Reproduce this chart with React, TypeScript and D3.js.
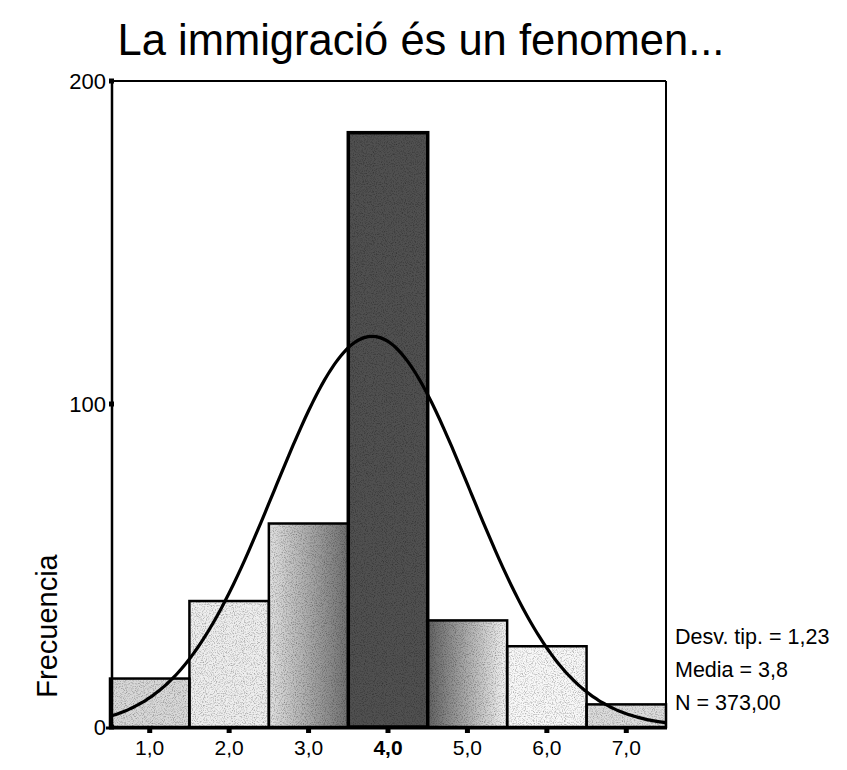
import React from "react";
import * as d3 from "d3";

const title = "La immigració és un fenomen...";
const binCenters = [1, 2, 3, 4, 5, 6, 7];
const binCounts = [15, 39, 63, 184, 33, 25, 7];
const xTickLabels = ["1,0", "2,0", "3,0", "4,0", "5,0", "6,0", "7,0"];
const yTicks = [0, 100, 200];
const statsLines = ["Desv. tip. = 1,23", "Media = 3,8", "N = 373,00"];
const meanVal = 3.8;
const sdVal = 1.23;
const nVal = 373;

// fill shades per bar: [left, right]
const barShades: [string, string][] = [
  ["#d8d8d8", "#d8d8d8"],
  ["#eeeeee", "#eeeeee"],
  ["#e2e2e2", "#707070"],
  ["#505050", "#505050"],
  ["#626262", "#f4f4f4"],
  ["#f8f8f8", "#f8f8f8"],
  ["#dcdcdc", "#dcdcdc"],
];

export default function App() {
  const W = 847, H = 770;
  const x = d3.scaleLinear().domain([0.5, 7.5]).range([110, 666]);
  const y = d3.scaleLinear().domain([0, 200]).range([727, 81]);

  const curvePts: [number, number][] = d3.range(0.5, 7.5001, 0.05).map((v) => {
    const z = (v - meanVal) / sdVal;
    const dens = (nVal / (sdVal * Math.sqrt(2 * Math.PI))) * Math.exp(-0.5 * z * z);
    return [x(v), y(dens)];
  });
  const line = d3.line().curve(d3.curveBasis)(curvePts) || "";

  const font = "Arial, 'Liberation Sans', sans-serif";

  return (
    <svg width={W} height={H} style={{ position: "absolute", left: 0, top: 0, background: "#fff" }}>
      <defs>
        {barShades.map((s, i) => (
          <linearGradient key={i} id={`g${i}`} x1="0" x2="1" y1="0" y2="0">
            <stop offset="0" stopColor={s[0]} />
            <stop offset="1" stopColor={s[1]} />
          </linearGradient>
        ))}
        <filter id="grain" x="0" y="0" width="100%" height="100%">
          <feTurbulence type="fractalNoise" baseFrequency="0.9" numOctaves="2" seed="3" result="noise" />
          <feColorMatrix in="noise" type="matrix"
            values="0 0 0 0 0  0 0 0 0 0  0 0 0 0 0  0 0 0 -2.2 1.2" result="dots" />
          <feComposite in="dots" in2="SourceGraphic" operator="in" />
        </filter>
      </defs>
      <rect width={W} height={H} fill="#fff" />
      <text x={421} y={55} textAnchor="middle" fontFamily={font} fontSize={43.5} fill="#000">{title}</text>

      {/* bars */}
      {binCenters.map((c, i) => {
        const x0 = x(c - 0.5), x1 = x(c + 0.5);
        const yt = y(binCounts[i]);
        const h = y(0) - yt;
        return (
          <g key={i}>
            <rect x={x0} y={yt} width={x1 - x0} height={h} fill={`url(#g${i})`} />
            <rect x={x0} y={yt} width={x1 - x0} height={h} fill="#000" opacity={0.35} filter="url(#grain)" />
          </g>
        );
      })}
      {binCenters.map((c, i) => {
        const x0 = x(c - 0.5), x1 = x(c + 0.5);
        const yt = y(binCounts[i]);
        return (
          <rect key={i} x={x0} y={yt} width={x1 - x0} height={y(0) - yt} fill="none" stroke="#000"
            strokeWidth={i === 3 ? 3.5 : 2.5} />
        );
      })}

      {/* frame */}
      <line x1={x(0.5)} x2={x(7.5)} y1={y(200)} y2={y(200)} stroke="#000" strokeWidth={2} />
      <line x1={x(7.5)} x2={x(7.5)} y1={y(200)} y2={y(0)} stroke="#000" strokeWidth={2} />
      <line x1={x(0.5) + 2} x2={x(0.5) + 2} y1={y(200)} y2={y(0)} stroke="#000" strokeWidth={2.5} />
      <line x1={x(0.5) - 4} x2={x(7.5) + 1} y1={y(0) + 1} y2={y(0) + 1} stroke="#000" strokeWidth={3} />

      {/* normal curve */}
      <path d={line} fill="none" stroke="#000" strokeWidth={3.2} />

      {/* y ticks */}
      {yTicks.map((t) => (
        <g key={t}>
          <rect x={x(0.5) - 1} y={y(t) - 2.5} width={5} height={5} fill="#000" />
          <text x={x(0.5) - 4} y={y(t)} dy="0.36em" textAnchor="end" fontFamily={font} fontSize={22} fill="#000">{t}</text>
        </g>
      ))}
      {/* x ticks */}
      {binCenters.map((c, i) => (
        <g key={c}>
          <rect x={x(c) - 2.5} y={y(0) + 1} width={5} height={5} fill="#000" />
          <text x={x(c)} y={y(0) + 28} textAnchor="middle" fontFamily={font} fontSize={21}
            fontWeight={i === 3 ? "bold" : "normal"} fill="#000">{xTickLabels[i]}</text>
        </g>
      ))}

      <text transform={`translate(57,626) rotate(-90)`} textAnchor="middle" fontFamily={font} fontSize={29} fill="#000">Frecuencia</text>

      {statsLines.map((s, i) => (
        <text key={i} x={675} y={644 + i * 33} fontFamily={font} fontSize={21.5} fill="#000">{s}</text>
      ))}
    </svg>
  );
}
